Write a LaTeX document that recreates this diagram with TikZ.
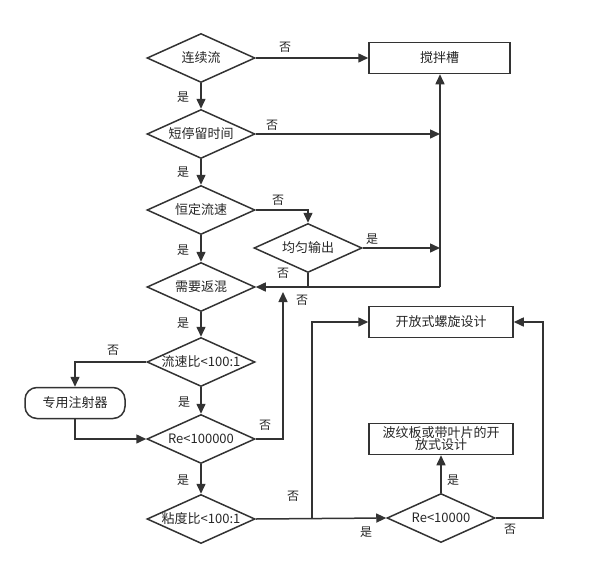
\documentclass[tikz,border=0pt]{standalone}
\usepackage{fontspec}
\setmainfont{Noto Sans CJK SC}
\usetikzlibrary{shapes.geometric,arrows.meta}
\begin{document}
\begin{tikzpicture}[x=1pt,y=-1pt,
  every node/.style={font=\fontsize{13}{15}\selectfont, text=black!85},
  dia/.style={diamond, aspect=2.2, draw=black!80, line width=1.5pt, inner sep=-4pt, minimum width=108pt, minimum height=49pt},
  boxn/.style={rectangle, draw=black!80, line width=1.5pt, inner sep=0pt, minimum width=144pt, minimum height=31pt},
  rbox/.style={rectangle, rounded corners=12pt, draw=black!80, line width=1.5pt, inner sep=0pt, minimum width=100pt, minimum height=31pt},
  conn/.style={draw=black!80, line width=1.5pt},
  arr/.style={conn, -{Triangle[length=10pt,width=9pt]}},
  lab/.style={inner sep=0pt, font=\fontsize{12}{14}\selectfont}
]
\useasboundingbox (0,0) rectangle (595,576);
% nodes
\node[dia] (d1) at (201,58) {连续流};
\node[dia] (d2) at (201,134) {短停留时间};
\node[dia] (d3) at (201,210) {恒定流速};
\node[dia] (d4) at (308,248) {均匀输出};
\node[dia] (d5) at (201,287) {需要返混};
\node[dia] (d6) at (201,362) {流速比<100:1};
\node[dia] (d7) at (201,439) {Re<100000};
\node[dia] (d8) at (201,519) {粘度比<100:1};
\node[dia] (d9) at (441,518) {Re<10000};
\node[boxn, minimum width=141pt] (b1) at (439.5,58) {搅拌槽};
\node[boxn] (b3) at (441,322) {开放式螺旋设计};
\node[boxn, align=center] (b4) at (441,439) {波纹板或带叶片的开\\[-3pt]放式设计};
\node[rbox] (b2) at (75,403) {专用注射器};
% helper coordinates
\coordinate (v1) at (440,134);
\coordinate (v2) at (440,248);
\coordinate (v3) at (440,287);
\coordinate (j1) at (308,287);
\coordinate (k1) at (283,439);
\coordinate (k2) at (283,292);
\coordinate (m1) at (312,519);
\coordinate (n1) at (543,518);
% connectors
\draw[arr] (d1.east) -- (b1.west);
\draw[arr] (d1.south) -- (d2.north);
\draw[arr] (d2.east) -- (v1);
\draw[arr] (d2.south) -- (d3.north);
\draw[arr] (v3) -- (b1.south -| v3);
\draw[arr] (d3.east) -| (d4.north);
\draw[arr] (d3.south) -- (d5.north);
\draw[arr] (d4.east) -- (v2);
\draw[conn] (d4.south) -- (j1);
\draw[arr] (v3) -- (d5.east);
\draw[arr] (d5.south) -- (d6.north);
\draw[arr] (d6.west) -| (b2.north);
\draw[arr] (b2.south) |- (d7.west);
\draw[arr] (d6.south) -- (d7.north);
\draw[arr] (d7.east) -- (k1) -- (k2);
\draw[arr] (d7.south) -- (d8.north);
\draw[arr] (d8.east) -- (d9.west);
\draw[arr] (m1) |- (b3.west);
\draw[arr] (d9.north) -- (b4.south);
\draw[arr] (d9.east) -- (n1) |- (b3.east);
% labels
\node[lab] (l1) at (285,47) {否};
\node[lab] (l2) at (183,97) {是};
\node[lab] (l3) at (272,125) {否};
\node[lab] (l4) at (183,172) {是};
\node[lab] (l5) at (278,200) {否};
\node[lab] (l6) at (183,250) {是};
\node[lab] (l7) at (372,239) {是};
\node[lab] (l8) at (283,273) {否};
\node[lab] (l9) at (302,300) {否};
\node[lab] (l10) at (183,323) {是};
\node[lab] (l11) at (113,350) {否};
\node[lab] (l12) at (184,402) {是};
\node[lab] (l13) at (265,425) {否};
\node[lab] (l14) at (183,480) {是};
\node[lab] (l15) at (293,496) {否};
\node[lab] (l16) at (366,532) {是};
\node[lab] (l17) at (453,480) {是};
\node[lab] (l18) at (510,529) {否};
\end{tikzpicture}
\end{document}
